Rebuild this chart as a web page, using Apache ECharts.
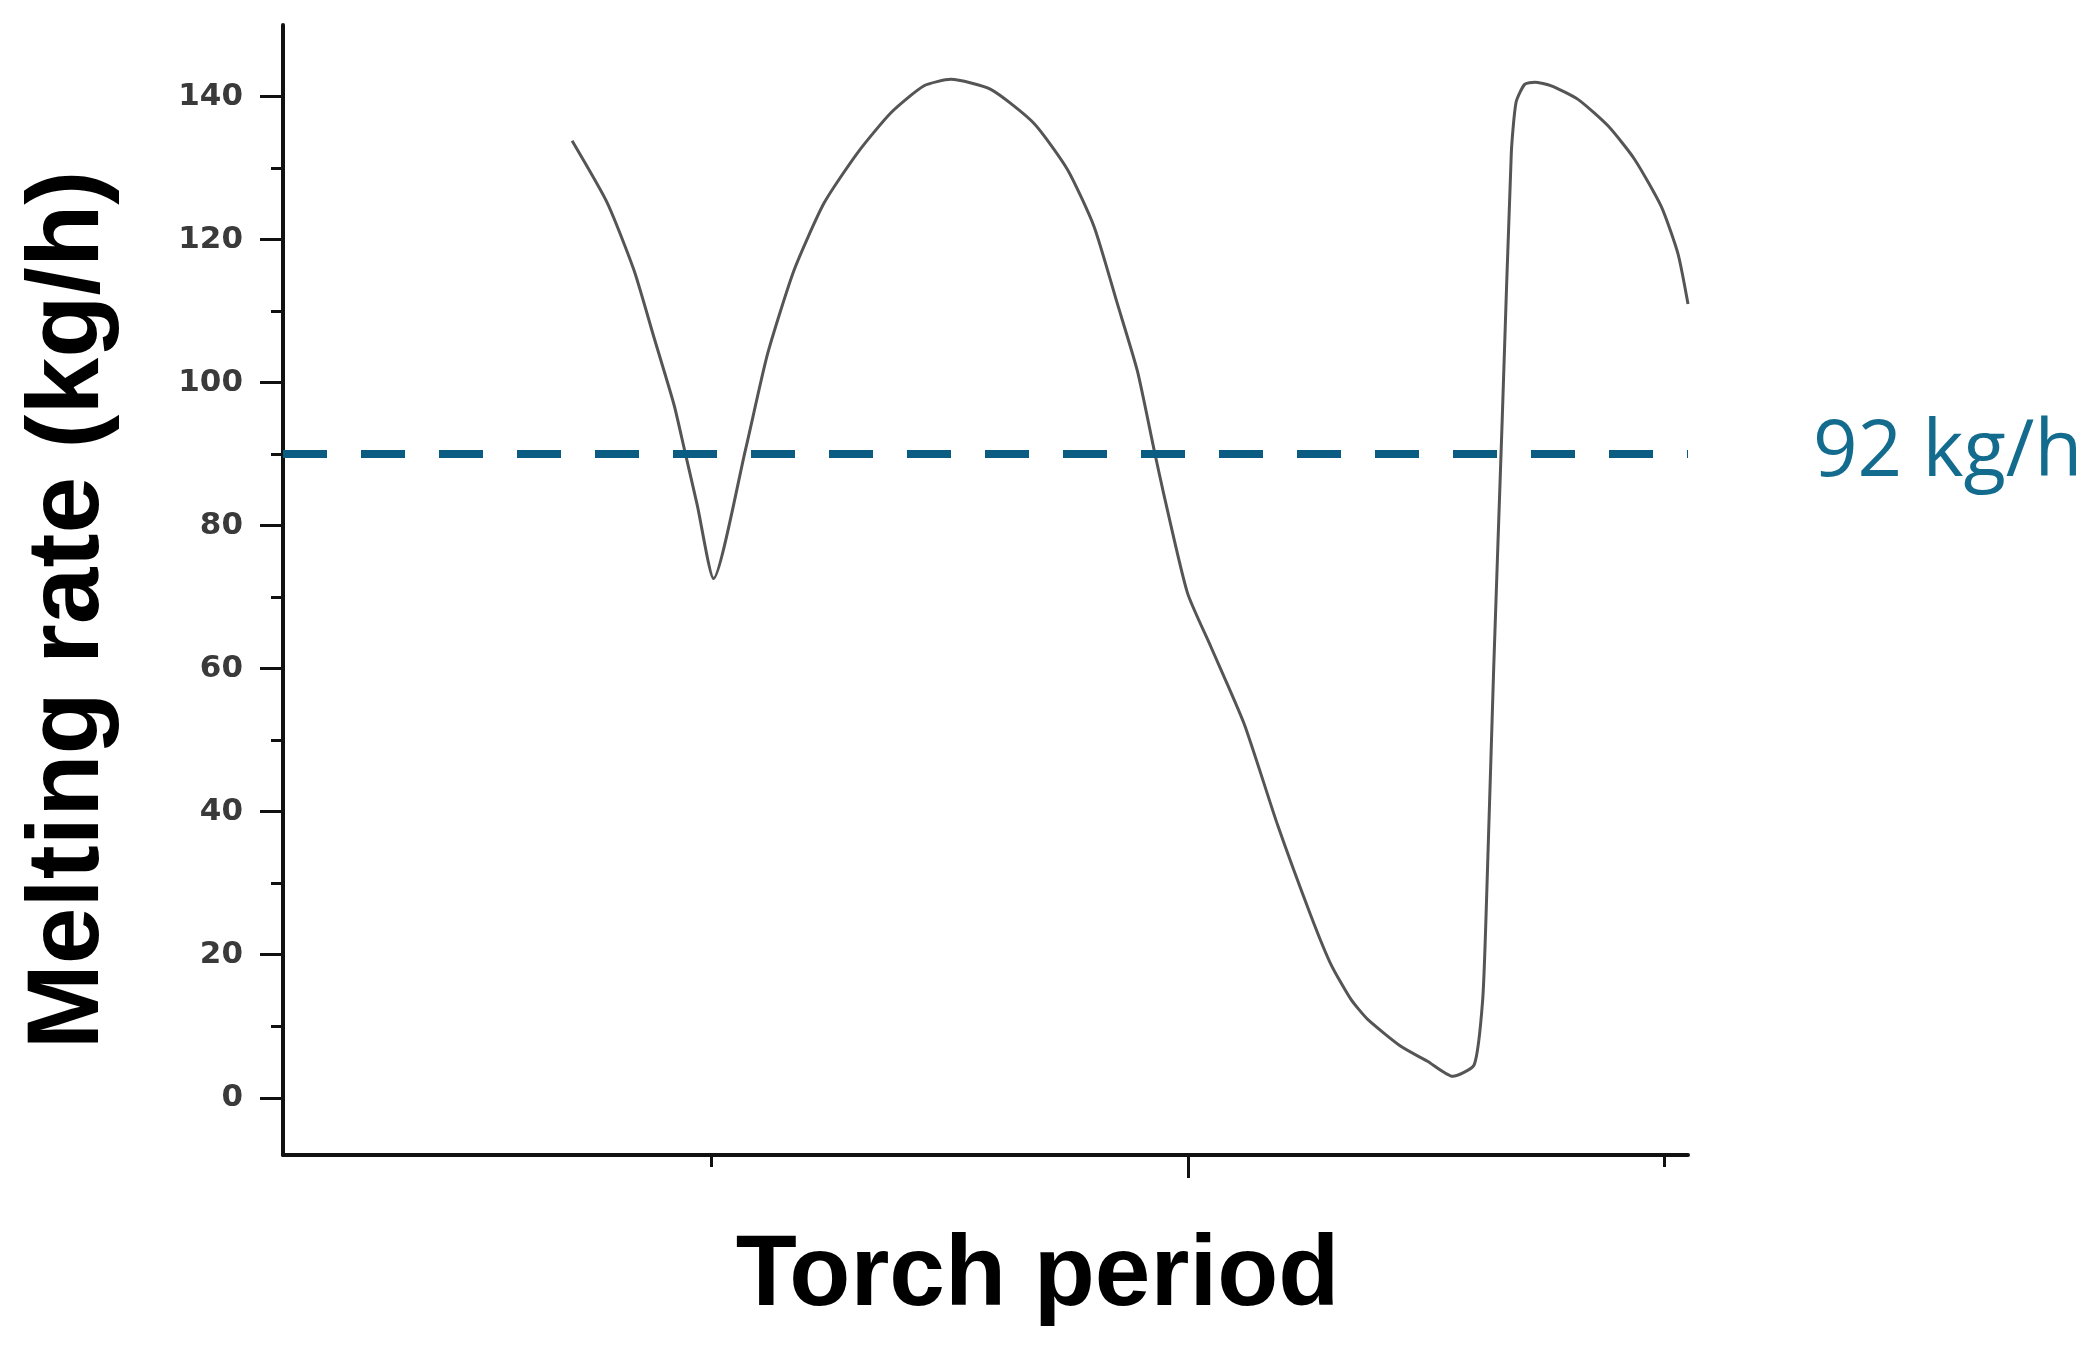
<!DOCTYPE html>
<html>
<head>
<meta charset="utf-8">
<title>Melting rate</title>
<script src="https://cdn.jsdelivr.net/npm/echarts@6/dist/echarts.min.js"></script>
<style>
  html, body { margin: 0; padding: 0; background: #fff; }
  #chart { width: 2090px; height: 1350px; }
</style>
</head>
<body>
<div id="chart"></div>
<script>
// torch period (arbitrary units, ticks at 1, 2, 3) and melting rate in kg/h
const periodX = [0.707, 0.781, 0.837, 0.879, 0.921, 0.943, 0.970, 1.004, 1.071,
  1.117, 1.173, 1.236, 1.306, 1.376, 1.446, 1.502, 1.586, 1.676, 1.747,
  1.803, 1.852, 1.894, 1.929, 1.950, 1.999, 2.048, 2.118, 2.188,
  2.258, 2.300, 2.342, 2.377, 2.447, 2.503, 2.556, 2.601, 2.619,
  2.627, 2.642, 2.660, 2.679, 2.689, 2.707, 2.728,
  2.763, 2.819, 2.882, 2.938, 2.994, 3.029, 3.050];
const meltRate = [133.8, 125.1, 115.7, 106.3, 96.9, 90.6, 82.8, 72.6, 90.6,
  103.9, 115.7, 125.1, 132.1, 137.7, 141.5, 142.4, 141.0, 136.3, 129.8,
  121.8, 111.0, 101.6, 90.6, 84.2, 70.6, 63.1, 52.3, 38.2,
  25.5, 18.7, 13.8, 11.0, 7.2, 5.1, 3.0, 4.6, 13.8,
  27.6, 60.0, 95.0, 132.1, 139.2, 141.7, 142.0,
  141.5, 139.6, 135.9, 131.2, 124.6, 118.0, 111.0];

const yLabelTicks = [0, 20, 40, 60, 80, 100, 120, 140];
const yMinorTicks = [10, 30, 50, 70, 90, 110, 130];
const xMajorTicks = [2];
const xMinorTicks = [1, 3];
const targetRate = 90;
const targetLabel = "92 kg/h";

const xRange = [0.1, 3.05];
const yRange = [-8, 150];

const lineColor = "#0a5c82";
const axisColor = "#111";

const chart = echarts.init(document.getElementById("chart"));

chart.setOption({
  animation: false,
  grid: { left: 283, right: 402, top: 25, bottom: 195 },
  xAxis: [
    {
      type: "value",
      min: xRange[0],
      max: xRange[1],
      name: "Torch period",
      nameLocation: "middle",
      nameGap: 72,
      nameTextStyle: {
        fontFamily: "Liberation Sans",
        fontWeight: "bold",
        fontSize: 100,
        color: "#000",
        verticalAlign: "top",
        padding: [0, 0, 0, 104],
      },
      axisLine: { show: true, onZero: false, lineStyle: { color: axisColor, width: 4 } },
      axisTick: { show: true, customValues: xMajorTicks, length: 23, lineStyle: { color: axisColor, width: 3 } },
      axisLabel: { show: false },
      splitLine: { show: false },
    },
    {
      type: "value",
      min: xRange[0],
      max: xRange[1],
      position: "bottom",
      axisLine: { show: false, onZero: false },
      axisTick: { show: true, customValues: xMinorTicks, length: 12, lineStyle: { color: axisColor, width: 3 } },
      axisLabel: { show: false },
      splitLine: { show: false },
    },
  ],
  yAxis: [
    {
      type: "value",
      min: yRange[0],
      max: yRange[1],
      name: "Melting rate (kg/h)",
      nameLocation: "middle",
      nameGap: 162,
      nameTextStyle: {
        fontFamily: "Liberation Sans",
        fontWeight: "bold",
        fontSize: 102,
        color: "#000",
        padding: [0, 40, 0, 0],
      },
      axisLine: { show: true, onZero: false, lineStyle: { color: axisColor, width: 4 } },
      axisTick: { show: true, customValues: yLabelTicks, length: 23, lineStyle: { color: axisColor, width: 3 } },
      axisLabel: {
        customValues: yLabelTicks,
        margin: 40,
        fontFamily: "DejaVu Sans",
        fontWeight: "bold",
        fontSize: 31,
        color: "#3a3a3a",
      },
      splitLine: { show: false },
    },
    {
      type: "value",
      min: yRange[0],
      max: yRange[1],
      position: "left",
      axisLine: { show: false, onZero: false },
      axisTick: { show: true, customValues: yMinorTicks, length: 12, lineStyle: { color: axisColor, width: 3 } },
      axisLabel: { show: false },
      splitLine: { show: false },
    },
  ],
  series: [
    {
      type: "line",
      xAxisIndex: 0,
      yAxisIndex: 0,
      data: periodX.map((x, i) => [x, meltRate[i]]),
      showSymbol: false,
      smooth: 0.2,
      lineStyle: { color: "#555", width: 3, join: "round" },
      markLine: {
        silent: true,
        symbol: "none",
        lineStyle: { color: lineColor, width: 8, type: [44, 34] },
        label: {
          show: true,
          position: "end",
          distance: 125,
          formatter: targetLabel,
          fontFamily: "Open Sans",
          fontSize: 78,
          color: "#136b8e",
        },
        data: [[{ coord: [xRange[0], targetRate] }, { coord: [xRange[1], targetRate] }]],
      },
    },
  ],
});
</script>
</body>
</html>
